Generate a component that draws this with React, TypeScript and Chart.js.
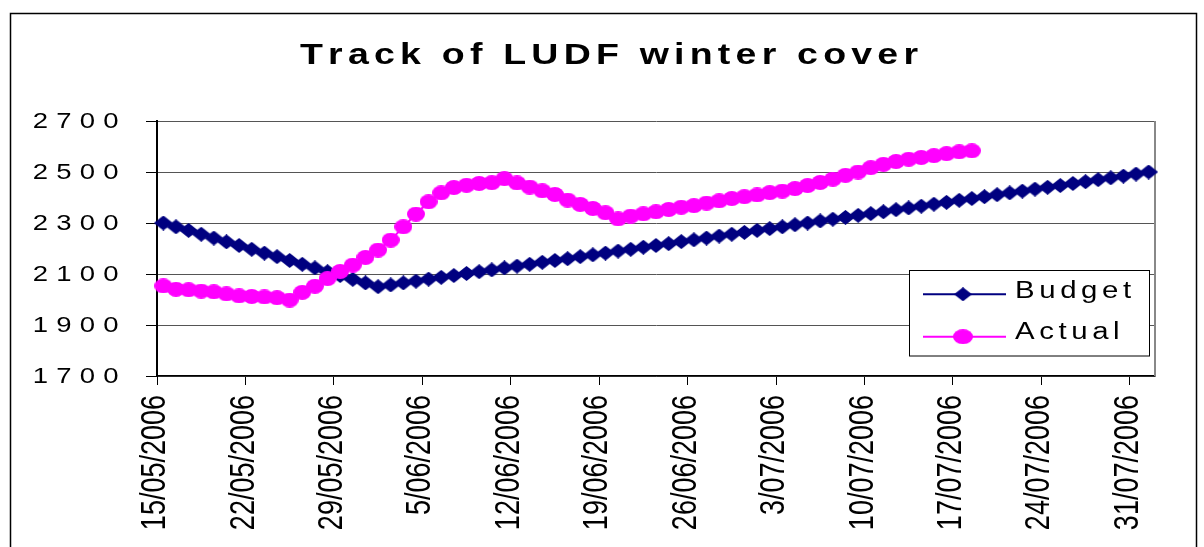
import React, { useEffect, useRef } from 'react';
import { Chart, registerables } from 'chart.js';

Chart.register(...registerables);

// ---------------- data ----------------
const chartTitle = 'Track of LUDF winter cover';
const seriesNames = ['Budget', 'Actual'];
const seriesColors = ['#000080', '#FF00FF'];

// x-axis tick labels (every 7 days starting 15/05/2006)
const tickLabels = [
  '15/05/2006', '22/05/2006', '29/05/2006', '5/06/2006', '12/06/2006', '19/06/2006',
  '26/06/2006', '3/07/2006', '10/07/2006', '17/07/2006', '24/07/2006', '31/07/2006',
];
const tickStepDays = 7;
const totalDays = 79;

const yTicks = [1700, 1900, 2100, 2300, 2500, 2700];

// daily values starting 15/05/2006
const budget = [
  2300, 2285, 2271, 2256, 2241, 2226, 2212, 2197, 2182, 2168, 2153, 2138, 2124, 2109, 2094, 2079,
  2065, 2050, 2057, 2065, 2072, 2080, 2087, 2094, 2102, 2109, 2116, 2124, 2131, 2138, 2146, 2153,
  2160, 2168, 2175, 2182, 2190, 2197, 2205, 2212, 2219, 2227, 2234, 2241, 2249, 2256, 2263, 2271,
  2278, 2285, 2293, 2300, 2308, 2315, 2322, 2330, 2337, 2344, 2352, 2359, 2366, 2374, 2381, 2389,
  2396, 2403, 2411, 2418, 2425, 2433, 2440, 2447, 2455, 2462, 2470, 2477, 2484, 2492, 2500,
];
const actual = [
  2053, 2040, 2038, 2033, 2030, 2022, 2014, 2012, 2010, 2007, 1998, 2028, 2052, 2082, 2110, 2135,
  2165, 2194, 2233, 2285, 2335, 2383, 2418, 2439, 2448, 2455, 2458, 2474, 2457, 2441, 2426, 2412,
  2390, 2373, 2357, 2340, 2316, 2327, 2336, 2344, 2353, 2362, 2368, 2378, 2387, 2396, 2403, 2410,
  2419, 2425, 2435, 2447, 2459, 2472, 2487, 2500, 2517, 2530, 2541, 2550, 2557, 2564, 2572, 2579,
  2583,
];

// ---------------- layout ----------------
const W = 1204;
const H = 560;
const PLOT = { left: 157, top: 121, right: 1155, bottom: 376 };
const SX = 1.25; // horizontal stretch of all text
const FONT = "'Liberation Sans', Arial, sans-serif";

function makeDiamond(w: number, h: number, color: string) {
  const c = document.createElement('canvas');
  c.width = w;
  c.height = h;
  const g = c.getContext('2d')!;
  g.fillStyle = color;
  g.beginPath();
  g.moveTo(w / 2, 0);
  g.lineTo(w, h / 2);
  g.lineTo(w / 2, h);
  g.lineTo(0, h / 2);
  g.closePath();
  g.fill();
  return c;
}

function makeEllipse(w: number, h: number, color: string) {
  const c = document.createElement('canvas');
  c.width = w;
  c.height = h;
  const g = c.getContext('2d')!;
  g.fillStyle = color;
  g.beginPath();
  g.ellipse(w / 2, h / 2, w / 2, h / 2, 0, 0, Math.PI * 2);
  g.fill();
  return c;
}

function spacedText(
  ctx: CanvasRenderingContext2D,
  text: string,
  x: number,
  y: number,
  font: string,
  spacing: number,
  align: 'left' | 'right' | 'center',
  targetWidth?: number,
) {
  ctx.save();
  ctx.font = font;
  ctx.textBaseline = 'middle';
  ctx.textAlign = 'left';
  ctx.fillStyle = '#000';
  const chars = Array.from(text);
  const advs = chars.map((ch) => ctx.measureText(ch).width * SX);
  const sum = advs.reduce((a, b) => a + b, 0);
  let sp = spacing;
  if (targetWidth !== undefined && chars.length > 1) sp = (targetWidth - sum) / (chars.length - 1);
  const total = sum + sp * (chars.length - 1);
  let cx = align === 'left' ? x : align === 'right' ? x - total : x - total / 2;
  chars.forEach((ch, i) => {
    ctx.save();
    ctx.translate(cx, y);
    ctx.scale(SX, 1);
    ctx.fillText(ch, 0, 0);
    ctx.restore();
    cx += advs[i] + sp;
  });
  ctx.restore();
}

export default function App() {
  const ref = useRef<HTMLCanvasElement | null>(null);

  useEffect(() => {
    const canvas = ref.current;
    if (!canvas) return;

    const diamond = makeDiamond(19, 15, seriesColors[0]);
    const ellipse = makeEllipse(18, 15, seriesColors[1]);
    const legendDiamond = makeDiamond(18, 14, seriesColors[0]);
    const legendEllipse = makeEllipse(20, 15, seriesColors[1]);

    const decorations = {
      id: 'decorations',
      beforeDraw(chart: any) {
        const ctx = chart.ctx as CanvasRenderingContext2D;
        ctx.save();
        ctx.fillStyle = '#fff';
        ctx.fillRect(0, 0, W, H);
        ctx.strokeStyle = '#000';
        ctx.lineWidth = 1.5;
        ctx.strokeRect(10.5, 13.5, 1186, 700);
        ctx.restore();
      },
      beforeDatasetsDraw(chart: any) {
        const ctx = chart.ctx as CanvasRenderingContext2D;
        const a = chart.chartArea;
        ctx.save();
        ctx.strokeStyle = '#888';
        ctx.lineWidth = 2;
        ctx.beginPath();
        ctx.moveTo(a.right, a.top);
        ctx.lineTo(a.right, a.bottom);
        ctx.stroke();
        ctx.restore();
      },
      afterDraw(chart: any) {
        const ctx = chart.ctx as CanvasRenderingContext2D;
        const xs = chart.scales.x;
        const ys = chart.scales.y;

        // title
        spacedText(ctx, chartTitle, 300, 56, `bold 30px ${FONT}`, 0, 'left', 618);

        // y labels
        yTicks.forEach((v) => {
          spacedText(ctx, String(v), 118.5, ys.getPixelForValue(v) + 1, `22px ${FONT}`, 8.2, 'right');
        });

        // x labels (rotated)
        ctx.save();
        ctx.font = `27px ${FONT}`;
        ctx.fillStyle = '#000';
        ctx.textAlign = 'right';
        ctx.textBaseline = 'middle';
        tickLabels.forEach((lab, i) => {
          const px = xs.getPixelForValue(i * tickStepDays) - 1.5;
          ctx.save();
          ctx.translate(px, 395);
          ctx.scale(1.3, 1);
          ctx.rotate(-Math.PI / 2);
          ctx.fillText(lab, 0, 0);
          ctx.restore();
        });
        ctx.restore();

        // legend
        ctx.save();
        ctx.fillStyle = '#fff';
        ctx.fillRect(909.5, 270.5, 240, 85.5);
        ctx.strokeStyle = '#000';
        ctx.lineWidth = 1;
        ctx.strokeRect(909.5, 270.5, 240, 85.5);
        const rows = [
          { y: 294.3, img: legendDiamond, ty: 291.5 },
          { y: 336.7, img: legendEllipse, ty: 332.5 },
        ];
        rows.forEach((r, i) => {
          ctx.strokeStyle = seriesColors[i];
          ctx.lineWidth = 2;
          ctx.beginPath();
          ctx.moveTo(923, r.y);
          ctx.lineTo(1006, r.y);
          ctx.stroke();
          ctx.drawImage(r.img, 963 - r.img.width / 2, r.y - r.img.height / 2);
          spacedText(ctx, seriesNames[i], 1015, r.ty, `23.5px ${FONT}`, 4.6, 'left');
        });
        ctx.restore();
      },
    };

    const chart = new Chart(canvas, {
      type: 'line',
      data: {
        datasets: [
          {
            label: seriesNames[0],
            data: budget.map((v, i) => ({ x: i + 0.5, y: v })),
            borderColor: seriesColors[0],
            backgroundColor: seriesColors[0],
            borderWidth: 2,
            pointStyle: diamond as any,
            pointRadius: 6,
            pointHoverRadius: 6,
            order: 1,
            clip: false as any,
            tension: 0,
          },
          {
            label: seriesNames[1],
            data: actual.map((v, i) => ({ x: i + 0.5, y: v })),
            borderColor: seriesColors[1],
            backgroundColor: seriesColors[1],
            borderWidth: 2,
            pointStyle: ellipse as any,
            pointRadius: 6,
            pointHoverRadius: 6,
            order: 0,
            clip: false as any,
            tension: 0,
          },
        ],
      },
      options: {
        animation: false,
        responsive: false,
        devicePixelRatio: 1,
        events: [],
        layout: { padding: { left: 0, top: PLOT.top, right: W - PLOT.right, bottom: 0 } },
        plugins: {
          legend: { display: false },
          title: { display: false },
          tooltip: { enabled: false },
        },
        scales: {
          x: {
            type: 'linear',
            min: 0,
            max: totalDays,
            ticks: { display: false, stepSize: tickStepDays, includeBounds: false },
            afterBuildTicks: (s: any) => {
              s.ticks = tickLabels.map((_, i) => ({ value: i * tickStepDays }));
            },
            afterFit: (s: any) => {
              s.height = H - PLOT.bottom;
            },
            grid: {
              display: true,
              drawOnChartArea: false,
              drawTicks: true,
              tickLength: 9,
              tickColor: '#000',
              color: '#000',
              lineWidth: 1,
            },
            border: { display: true, color: '#000', width: 1.5 },
          },
          y: {
            type: 'linear',
            min: yTicks[0],
            max: yTicks[yTicks.length - 1],
            ticks: { display: false, stepSize: 200 },
            afterBuildTicks: (s: any) => {
              s.ticks = yTicks.map((v) => ({ value: v }));
            },
            afterFit: (s: any) => {
              s.width = PLOT.left;
            },
            grid: {
              display: true,
              drawOnChartArea: true,
              drawTicks: true,
              tickLength: 11,
              tickColor: '#000',
              color: '#555',
              lineWidth: 1,
            },
            border: { display: true, color: '#000', width: 2 },
          },
        },
      },
      plugins: [decorations],
    });

    return () => chart.destroy();
  }, []);

  return (
    <div
      style={{
        position: 'fixed',
        left: 0,
        top: 0,
        width: W,
        height: 547,
        overflow: 'hidden',
        background: '#fff',
      }}
    >
      <canvas ref={ref} width={W} height={H} style={{ width: W, height: H, display: 'block' }} />
    </div>
  );
}
